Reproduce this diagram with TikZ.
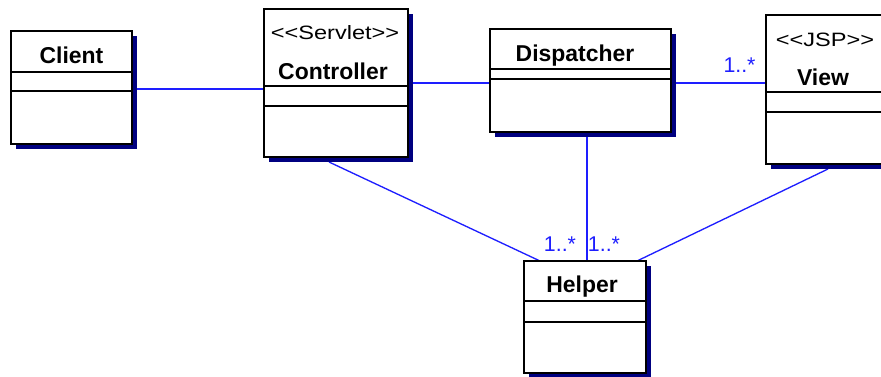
\documentclass[tikz,border=0pt]{standalone}
\usepackage{fontspec}
\setmainfont{Liberation Sans}
\usetikzlibrary{calc}
\definecolor{assoc}{RGB}{30,30,255}
\definecolor{shadowblue}{RGB}{0,0,128}
\pgfdeclarelayer{bg}
\pgfsetlayers{bg,main}

% class box: name, x1, y1, x2, y2, first divider y, second divider y
\newcommand\classbox[7]{%
  \fill[shadowblue] (#2+5,#3+5) rectangle (#4+5,#5+5);
  \node[classframe, minimum width={(#4-#2)*0.75pt}, minimum height={(#5-#3)*0.75pt}]
    (#1) at ({(#2+#4)/2},{(#3+#5)/2}) {};
  \draw[divider] (#1.west |- 0,#6) -- (#1.east |- 0,#6);
  \draw[divider] (#1.west |- 0,#7) -- (#1.east |- 0,#7);
}
% stereotype brackets kept as plain angle characters, set a little wide
\newcommand\stereotype[1]{\scalebox{1.22}[1]{<\kern0pt<#1>\kern0pt>}}

\begin{document}
\begin{tikzpicture}[x=0.75pt,y=-0.75pt,
  classframe/.style={draw=black, fill=white, line width=1pt, inner sep=0pt, outer sep=0pt},
  divider/.style={draw=black, line width=1pt},
  assocline/.style={draw=assoc, line width=1pt},
  cname/.style={font=\fontsize{17.2}{19}\selectfont\bfseries, anchor=base, inner sep=0pt},
  stereo/.style={font=\fontsize{14.5}{16}\selectfont, anchor=base, inner sep=0pt},
  mult/.style={font=\fontsize{16}{17}\selectfont, text=assoc, anchor=base, inner sep=0pt}]
\useasboundingbox (0,0) rectangle (881,377);
\clip (0,0) rectangle (881,377);

\classbox{client}{11}{31}{132}{144}{72}{91}
\classbox{ctrl}{264}{9}{408}{157}{86}{106}
\classbox{disp}{490}{29}{671}{132}{69}{79}
\classbox{view}{766}{15}{883}{164}{92}{112}
\classbox{helper}{524}{261}{646}{373}{301}{322}

\node[cname] (clientname) at (71.5,64) {Client};
\node[stereo] (ctrlstereo) at (335,40) {\stereotype{Servlet}};
\node[cname] (ctrlname) at (333,80) {Controller};
\node[cname] (dispname) at (575,61.5) {Dispatcher};
\node[stereo] (viewstereo) at (825,47) {\stereotype{JSP}};
\node[cname] (viewname) at (823,86) {View};
\node[cname] (helpername) at (582,293) {Helper};

\node[mult] (mview) at (739.5,73) {1..*};
\node[mult] (mhelpa) at (560,252) {1..*};
\node[mult] (mhelpb) at (604,252) {1..*};

\coordinate (ctrlfoot) at (329,162);
\coordinate (viewfoot) at (828,169);
\coordinate (helperleft) at (540,261);
\coordinate (helperright) at (637,261);

\begin{pgfonlayer}{bg}
  \draw[assocline] (client.east |- 0,89) -- (ctrl.west |- 0,89);
  \draw[assocline] (ctrl.east |- 0,83) -- (disp.west |- 0,83);
  \draw[assocline] (disp.east |- 0,83) -- (view.west |- 0,83);
  \draw[assocline] (disp.south -| 587,0) -- (helper.north -| 587,0);
  \draw[assocline] (ctrlfoot) -- (helperleft);
  \draw[assocline] (viewfoot) -- (helperright);
\end{pgfonlayer}
\end{tikzpicture}
\end{document}
